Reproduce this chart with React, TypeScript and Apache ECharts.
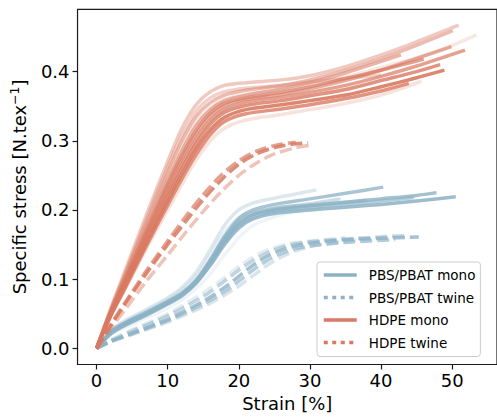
import React, { useEffect, useRef } from "react";
import * as echarts from "echarts";

// ---- tick labels ----
const xTicks = [0, 10, 20, 30, 40, 50];
const yTicks = [0, 0.1, 0.2, 0.3, 0.4];
const legendNames = ["PBS/PBAT mono", "PBS/PBAT twine", "HDPE mono", "HDPE twine"];

// ---- PBS/PBAT monofilament curves [strain %, stress N/tex] ----
const pbsMono1 = [[0,0],[2,0.026],[4,0.04],[7,0.056],[10,0.073],[12,0.088],[14,0.11],[16,0.143],[18,0.178],[20,0.2],[22,0.21],[25,0.217],[28,0.223],[30.9,0.229]];
const pbsMono2 = [[0,0],[2,0.024],[4,0.037],[7,0.052],[10,0.068],[12,0.08],[14,0.099],[16,0.128],[18,0.162],[20,0.188],[22,0.2],[25,0.208],[30,0.216],[35,0.224],[40.3,0.233]];
const pbsMono3 = [[0,0],[2,0.022],[4,0.035],[7,0.05],[10,0.066],[12,0.078],[14,0.096],[16,0.124],[18,0.156],[20,0.18],[22,0.193],[25,0.2],[30,0.206],[35,0.211],[40,0.216],[45,0.221],[47.8,0.225]];
const pbsMono4 = [[0,0],[2,0.021],[4,0.033],[7,0.048],[10,0.064],[12,0.076],[14,0.094],[16,0.12],[18,0.15],[20,0.174],[22,0.187],[25,0.195],[30,0.2],[35,0.204],[40,0.208],[45,0.213],[50.5,0.219]];
const pbsMono5 = [[0,0],[2,0.023],[4,0.036],[7,0.051],[10,0.067],[12,0.079],[14,0.097],[16,0.126],[18,0.158],[20,0.182],[22,0.194],[25,0.202],[30,0.209],[34.3,0.216]];
const pbsMono6 = [[0,0],[2,0.022],[4,0.034],[7,0.049],[10,0.065],[12,0.077],[14,0.095],[16,0.122],[18,0.153],[20,0.177],[22,0.19],[25,0.198],[30,0.204],[35,0.208],[40,0.213],[44.6,0.218]];
const pbsMono7 = [[0,0],[2,0.02],[4,0.03],[7,0.044],[10,0.058],[12,0.07],[14,0.086],[16,0.108],[18,0.135],[20,0.16],[22,0.178],[25,0.19],[28,0.198],[32,0.205]];
const pbsMono8 = [[0,0],[2,0.023],[4,0.036],[7,0.05],[10,0.066],[12,0.078],[14,0.097],[16,0.127],[18,0.16],[20,0.184],[22,0.196],[25,0.203],[30,0.207],[35,0.211],[38,0.214]];
const pbsMono9 = [[0,0],[2,0.025],[4,0.038],[7,0.054],[10,0.07],[12,0.084],[14,0.104],[16,0.135],[18,0.168],[20,0.188],[22,0.196],[25,0.2],[27,0.202]];

// ---- PBS/PBAT twine curves ----
const pbsTwine1 = [[0,0],[2,0.01],[5,0.022],[10,0.042],[15,0.068],[18,0.088],[20,0.104],[22,0.12],[24,0.133],[26,0.142],[28,0.148],[30,0.152],[35,0.157],[40,0.159],[45.3,0.161]];
const pbsTwine2 = [[0,0],[2,0.011],[5,0.025],[10,0.047],[15,0.075],[18,0.097],[20,0.113],[22,0.127],[24,0.138],[26,0.146],[28,0.151],[30,0.154],[35,0.158],[40,0.161],[43.7,0.163]];
const pbsTwine3 = [[0,0],[2,0.009],[5,0.02],[10,0.038],[15,0.06],[18,0.077],[20,0.09],[22,0.105],[24,0.12],[26,0.132],[28,0.141],[30,0.147],[34,0.154],[38,0.158]];
const pbsTwine4 = [[0,0],[2,0.01],[5,0.021],[10,0.04],[15,0.064],[18,0.082],[20,0.097],[22,0.113],[24,0.127],[26,0.137],[28,0.144],[30,0.148],[35,0.153],[42,0.157]];
const pbsTwine5 = [[0,0],[2,0.012],[5,0.027],[10,0.05],[15,0.08],[18,0.102],[20,0.118],[22,0.132],[24,0.142],[27,0.151],[30,0.155],[35,0.16]];

// ---- HDPE monofilament curves ----
const hdpeMonoA = [[0,0],[2,0.058],[4,0.112],[7,0.193],[10,0.27],[12,0.318],[14,0.352],[16,0.371],[18,0.38],[21,0.384],[26,0.388],[30,0.394],[35,0.407],[40,0.424],[45,0.443],[50.9,0.467]];
const hdpeMonoL = [[0,0],[2,0.056],[4,0.108],[7,0.186],[10,0.262],[12,0.308],[14,0.343],[16,0.362],[18,0.371],[21,0.376],[26,0.38],[30,0.385],[35,0.39],[40,0.395]];
const hdpeMonoB = [[0,0],[2,0.055],[4,0.105],[7,0.18],[10,0.255],[12,0.3],[14,0.335],[16,0.355],[18,0.366],[21,0.373],[26,0.38],[30,0.388],[35,0.402],[40,0.419],[45,0.438],[50.1,0.459]];
const hdpeMonoC = [[0,0],[2,0.054],[4,0.102],[7,0.176],[10,0.248],[12,0.292],[14,0.327],[16,0.348],[18,0.36],[21,0.367],[26,0.374],[30,0.381],[35,0.392],[40,0.406],[45,0.42],[50,0.438],[53.4,0.453]];
const hdpeMonoF = [[0,0],[2,0.053],[4,0.1],[7,0.172],[10,0.243],[12,0.286],[14,0.322],[16,0.345],[18,0.358],[21,0.366],[26,0.375],[30,0.384],[35,0.398],[42.8,0.424]];
const hdpeMonoK = [[0,0],[2,0.052],[4,0.098],[7,0.168],[10,0.237],[12,0.279],[14,0.315],[16,0.34],[18,0.354],[21,0.362],[26,0.37],[30,0.378],[35,0.39],[40,0.402],[46,0.418]];
const hdpeMonoD = [[0,0],[2,0.051],[4,0.096],[7,0.165],[10,0.232],[12,0.274],[14,0.31],[16,0.336],[18,0.351],[21,0.36],[26,0.367],[30,0.375],[35,0.387],[40,0.402],[45,0.419],[49.9,0.436]];
const hdpeMonoE = [[0,0],[2,0.05],[4,0.094],[7,0.161],[10,0.226],[12,0.267],[14,0.303],[16,0.33],[18,0.346],[21,0.356],[26,0.363],[30,0.37],[35,0.38],[40,0.393],[45,0.408],[51.8,0.431]];
const hdpeMonoG = [[0,0],[2,0.049],[4,0.092],[7,0.157],[10,0.22],[12,0.26],[14,0.296],[16,0.324],[18,0.341],[21,0.351],[26,0.358],[30,0.365],[35,0.374],[40,0.387],[45,0.4],[48.3,0.41]];
const hdpeMonoH = [[0,0],[2,0.048],[4,0.089],[7,0.152],[10,0.213],[12,0.252],[14,0.288],[16,0.316],[18,0.334],[21,0.345],[26,0.352],[30,0.358],[35,0.366],[40,0.378],[45,0.391],[48.9,0.402]];
const hdpeMonoI = [[0,0],[2,0.047],[4,0.087],[7,0.148],[10,0.207],[12,0.245],[14,0.28],[16,0.309],[18,0.328],[21,0.339],[26,0.346],[30,0.352],[35,0.361],[40,0.372],[43.9,0.383]];
const hdpeMonoJ = [[0,0],[2,0.046],[4,0.085],[7,0.144],[10,0.2],[12,0.237],[14,0.272],[16,0.3],[18,0.318],[21,0.33],[26,0.338],[30,0.345],[35,0.354],[40,0.366],[45.7,0.386]];

// ---- HDPE twine curves ----
const hdpeTwine1 = [[0,0],[2,0.033],[4,0.064],[7,0.108],[10,0.15],[12.5,0.183],[15,0.215],[17.5,0.243],[20,0.266],[22.5,0.281],[25,0.29],[27.5,0.295],[29.7,0.297]];
const hdpeTwine2 = [[0,0],[2,0.029],[4,0.056],[7,0.097],[10,0.135],[12.5,0.167],[15,0.198],[17.5,0.226],[20,0.25],[22.5,0.268],[25,0.281],[28,0.29],[30.5,0.294]];
const hdpeTwine3 = [[0,0],[2,0.034],[4,0.066],[7,0.112],[10,0.155],[12.5,0.19],[15,0.222],[17.5,0.25],[20,0.271],[22.5,0.285],[25,0.293],[28,0.298]];

const pbsMonoCurves = [pbsMono7, pbsMono9, pbsMono1, pbsMono5, pbsMono8, pbsMono6, pbsMono2, pbsMono3, pbsMono4];
const pbsTwineCurves = [pbsTwine5, pbsTwine3, pbsTwine2, pbsTwine4, pbsTwine1];
const hdpeMonoCurves = [hdpeMonoC, hdpeMonoJ, hdpeMonoL, hdpeMonoA, hdpeMonoB, hdpeMonoF, hdpeMonoD, hdpeMonoE, hdpeMonoK, hdpeMonoI, hdpeMonoG, hdpeMonoH];
const hdpeTwineCurves = [hdpeTwine2, hdpeTwine3, hdpeTwine1];

// ---- styles (kept apart from data) ----
const pbsMonoAlpha = [0.15, 0.2, 0.3, 0.45, 0.5, 0.65, 0.75, 0.8, 0.85];
const pbsTwineAlpha = [0.25, 0.35, 0.55, 0.65, 0.8];
const hdpeMonoAlpha = [0.18, 0.22, 0.35, 0.4, 0.5, 0.55, 0.6, 0.7, 0.7, 0.8, 0.8, 0.9];
const hdpeTwineAlpha = [0.45, 0.7, 0.85];

const BLUE = "rgb(140,178,198)";
const RED = "rgb(217,121,97)";
const FONT = "DejaVu Sans";
const DASH = [12, 5];
const LEGEND_DOT = [4, 4.5];

function makeSeries(curves: number[][][], alphas: number[], color: string, dashed: boolean, prefix: string) {
  return curves.map((c, i) => ({
    name: prefix + i,
    type: "line",
    data: c,
    smooth: 0.3,
    symbol: "none",
    showSymbol: false,
    silent: true,
    lineStyle: {
      color,
      width: 3.5,
      opacity: alphas[i],
      type: dashed ? DASH : "solid",
      cap: "butt",
      join: "round",
    },
  }));
}

export default function App() {
  const ref = useRef<HTMLDivElement>(null);
  useEffect(() => {
    if (!ref.current) return;
    const chart = echarts.init(ref.current, null, { renderer: "svg" });
    const legendColors = [BLUE, BLUE, RED, RED];
    const legendDashed = [false, true, false, true];
    const legendSeries = legendNames.map((n, i) => ({
      name: n,
      type: "line",
      data: [],
      symbol: "none",
      showSymbol: false,
      lineStyle: { color: legendColors[i], width: 3.5, type: legendDashed[i] ? LEGEND_DOT : "solid" },
      itemStyle: { color: legendColors[i], opacity: 0 },
    }));
    chart.setOption({
      animation: false,
      textStyle: { fontFamily: FONT },
      grid: {
        left: 75.5,
        top: 9.3,
        right: -8,
        bottom: 53.5,
        show: true,
        borderColor: "#1a1a1a",
        borderWidth: 1.2,
        backgroundColor: "transparent",
      },
      legend: {
        orient: "vertical",
        left: 317,
        top: 262,
        data: legendNames.map((n, i) => ({
          name: n,
          itemStyle: { opacity: 0, borderWidth: 0 },
          lineStyle: { color: legendColors[i], width: 3.5, type: legendDashed[i] ? LEGEND_DOT : "solid", opacity: 1, cap: "butt" },
        })),
        itemWidth: 33,
        itemHeight: 16,
        itemGap: 6.5,
        padding: [5, 5, 6, 5],
        backgroundColor: "rgba(255,255,255,0.8)",
        borderColor: "#cccccc",
        borderWidth: 1,
        borderRadius: 3,
        selectedMode: false,
        textStyle: { fontFamily: FONT, fontSize: 13.5, color: "#000", lineHeight: 16, padding: [0, 0, 0, 7] },
      },
      xAxis: {
        type: "value",
        min: -2.68,
        max: 56.3,
        name: "Strain [%]",
        nameLocation: "middle",
        nameGap: 27,
        nameTextStyle: { fontFamily: FONT, fontSize: 18, color: "#000" },
        axisLine: { show: false, onZero: false },
        splitLine: { show: false },
        axisTick: { show: true, customValues: xTicks, length: 5, lineStyle: { color: "#1a1a1a", width: 1.2 } },
        axisLabel: { customValues: xTicks, fontFamily: FONT, fontSize: 18, color: "#000", margin: 7 },
      },
      yAxis: {
        type: "value",
        min: -0.0234,
        max: 0.49,
        name: "Specific stress [N.tex{sup|−1}]",
        nameLocation: "middle",
        nameGap: 45,
        nameTextStyle: {
          fontFamily: FONT,
          fontSize: 18,
          color: "#000",
          lineHeight: 22,
          rich: { sup: { fontFamily: FONT, fontSize: 12.5, color: "#000", verticalAlign: "top", lineHeight: 22 } },
        },
        axisLine: { show: false, onZero: false },
        splitLine: { show: false },
        axisTick: { show: true, customValues: yTicks, length: 5, lineStyle: { color: "#1a1a1a", width: 1.2 } },
        axisLabel: {
          customValues: yTicks,
          fontFamily: FONT,
          fontSize: 18,
          color: "#000",
          margin: 8,
          formatter: (v: number) => v.toFixed(1),
        },
      },
      series: [
        ...makeSeries(pbsMonoCurves, pbsMonoAlpha, BLUE, false, "pbsMono"),
        ...makeSeries(pbsTwineCurves, pbsTwineAlpha, BLUE, true, "pbsTwine"),
        ...makeSeries(hdpeMonoCurves, hdpeMonoAlpha, RED, false, "hdpeMono"),
        ...makeSeries(hdpeTwineCurves, hdpeTwineAlpha, RED, true, "hdpeTwine"),
        ...legendSeries,
      ],
    });
    return () => chart.dispose();
  }, []);
  return <div ref={ref} style={{ position: "fixed", left: 0, top: 0, width: 497, height: 418, background: "#fff" }} />;
}
